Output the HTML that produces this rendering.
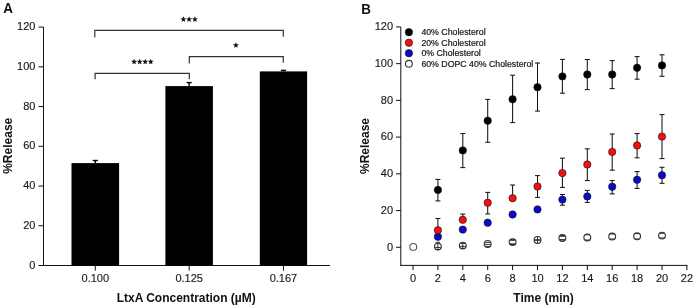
<!DOCTYPE html>
<html><head><meta charset="utf-8"><style>
html,body{margin:0;padding:0;background:#fff;width:693px;height:307px;overflow:hidden}
svg{display:block;font-family:"Liberation Sans",sans-serif}
</style></head><body>
<svg style="will-change:transform" width="693" height="307" viewBox="0 0 693 307">
<g fill="none" stroke="#111" stroke-width="1">
<line x1="43.5" y1="27.1" x2="43.5" y2="266"/>
<line x1="43" y1="265.5" x2="330" y2="265.5"/>
<line x1="38.5" y1="265.5" x2="43.5" y2="265.5"/>
<line x1="38.5" y1="225.77" x2="43.5" y2="225.77"/>
<line x1="38.5" y1="186.03" x2="43.5" y2="186.03"/>
<line x1="38.5" y1="146.3" x2="43.5" y2="146.3"/>
<line x1="38.5" y1="106.57" x2="43.5" y2="106.57"/>
<line x1="38.5" y1="66.83" x2="43.5" y2="66.83"/>
<line x1="38.5" y1="27.1" x2="43.5" y2="27.1"/>
<line x1="95.3" y1="265.5" x2="95.3" y2="270.7"/>
<line x1="189.15" y1="265.5" x2="189.15" y2="270.7"/>
<line x1="283.45" y1="265.5" x2="283.45" y2="270.7"/>
</g>
<g fill="#000">
<rect x="71.5" y="163.1" width="47.6" height="102.4"/>
<rect x="165.4" y="86.1" width="47.5" height="179.4"/>
<rect x="259.8" y="71.4" width="47.3" height="194.1"/>
</g>
<g stroke="#000" stroke-width="1.4" fill="none">
<line x1="95.3" y1="160.5" x2="95.3" y2="163.1"/>
<line x1="92.7" y1="160.5" x2="97.9" y2="160.5"/>
<line x1="189.15" y1="82.6" x2="189.15" y2="86.1"/>
<line x1="186.55" y1="82.6" x2="191.75" y2="82.6"/>
<line x1="283.45" y1="70.4" x2="283.45" y2="71.4"/>
<line x1="280.85" y1="70.4" x2="286.05" y2="70.4"/>
</g>
<g stroke="#333" stroke-width="1.2" fill="none">
<polyline points="94.8,37.4 94.8,30.4 283.3,30.4 283.3,36.8"/>
<polyline points="95.1,79.3 95.1,73.4 189.3,73.4 189.3,79.2"/>
<polyline points="189.3,63.4 189.3,56.7 283.3,56.7 283.3,62.8"/>
</g>
<g fill="#111">
<polygon points="183.4,16.3 184.19,18.31 186.35,18.44 184.68,19.82 185.22,21.91 183.4,20.75 181.58,21.91 182.12,19.82 180.45,18.44 182.61,18.31"/>
<polygon points="189.1,16.3 189.89,18.31 192.05,18.44 190.38,19.82 190.92,21.91 189.1,20.75 187.28,21.91 187.82,19.82 186.15,18.44 188.31,18.31"/>
<polygon points="194.9,16.3 195.69,18.31 197.85,18.44 196.18,19.82 196.72,21.91 194.9,20.75 193.08,21.91 193.62,19.82 191.95,18.44 194.11,18.31"/>
<polygon points="134.1,58.7 134.89,60.71 137.05,60.84 135.38,62.22 135.92,64.31 134.1,63.15 132.28,64.31 132.82,62.22 131.15,60.84 133.31,60.71"/>
<polygon points="139.7,58.7 140.49,60.71 142.65,60.84 140.98,62.22 141.52,64.31 139.7,63.15 137.88,64.31 138.42,62.22 136.75,60.84 138.91,60.71"/>
<polygon points="145.2,58.7 145.99,60.71 148.15,60.84 146.48,62.22 147.02,64.31 145.2,63.15 143.38,64.31 143.92,62.22 142.25,60.84 144.41,60.71"/>
<polygon points="150.7,58.7 151.49,60.71 153.65,60.84 151.98,62.22 152.52,64.31 150.7,63.15 148.88,64.31 149.42,62.22 147.75,60.84 149.91,60.71"/>
<polygon points="235.9,42.2 236.69,44.21 238.85,44.34 237.18,45.72 237.72,47.81 235.9,46.65 234.08,47.81 234.62,45.72 232.95,44.34 235.11,44.21"/>
</g>
<g font-family="Liberation Sans, sans-serif" font-size="11" fill="#1a1a1a" stroke="#1a1a1a" stroke-width="0.15" text-anchor="end">
<text x="35.4" y="268.5">0</text>
<text x="35.4" y="228.77">20</text>
<text x="35.4" y="189.03">40</text>
<text x="35.4" y="149.3">60</text>
<text x="35.4" y="109.57">80</text>
<text x="35.4" y="69.83">100</text>
<text x="35.4" y="30.1">120</text>
</g>
<g font-family="Liberation Sans, sans-serif" font-size="11" fill="#1a1a1a" stroke="#1a1a1a" stroke-width="0.15" text-anchor="middle">
<text x="95.3" y="282.1">0.100</text>
<text x="189.15" y="282.1">0.125</text>
<text x="283.45" y="282.1">0.167</text>
</g>
<g font-family="Liberation Sans, sans-serif" font-weight="bold" fill="#111">
<text transform="translate(3.3,13) scale(0.96,1.02)" font-size="14">A</text>
<text x="186.2" y="302" font-size="12" text-anchor="middle">LtxA Concentration (&#181;M)</text>
<text transform="translate(12,145.8) rotate(-90)" font-size="12" text-anchor="middle">%Release</text>
<text transform="translate(361.2,13.5) scale(0.96,1.07)" font-size="14">B</text>
<text x="543.6" y="302" font-size="12" text-anchor="middle">Time (min)</text>
<text transform="translate(368.8,146) rotate(-90)" font-size="12" text-anchor="middle">%Release</text>
</g>
<g fill="none" stroke="#111" stroke-width="1">
<line x1="400.8" y1="26.9" x2="400.8" y2="265.9"/>
<line x1="400.3" y1="265.4" x2="687.4" y2="265.4"/>
<line x1="396" y1="247.3" x2="400.8" y2="247.3"/>
<line x1="396" y1="210.57" x2="400.8" y2="210.57"/>
<line x1="396" y1="173.83" x2="400.8" y2="173.83"/>
<line x1="396" y1="137.1" x2="400.8" y2="137.1"/>
<line x1="396" y1="100.37" x2="400.8" y2="100.37"/>
<line x1="396" y1="63.63" x2="400.8" y2="63.63"/>
<line x1="396" y1="26.9" x2="400.8" y2="26.9"/>
<line x1="413" y1="265.4" x2="413" y2="270.2"/>
<line x1="437.9" y1="265.4" x2="437.9" y2="270.2"/>
<line x1="462.8" y1="265.4" x2="462.8" y2="270.2"/>
<line x1="487.7" y1="265.4" x2="487.7" y2="270.2"/>
<line x1="512.6" y1="265.4" x2="512.6" y2="270.2"/>
<line x1="537.5" y1="265.4" x2="537.5" y2="270.2"/>
<line x1="562.4" y1="265.4" x2="562.4" y2="270.2"/>
<line x1="587.3" y1="265.4" x2="587.3" y2="270.2"/>
<line x1="612.2" y1="265.4" x2="612.2" y2="270.2"/>
<line x1="637.1" y1="265.4" x2="637.1" y2="270.2"/>
<line x1="662" y1="265.4" x2="662" y2="270.2"/>
<line x1="686.9" y1="265.4" x2="686.9" y2="270.2"/>
</g>
<g font-family="Liberation Sans, sans-serif" font-size="11" fill="#1a1a1a" stroke="#1a1a1a" stroke-width="0.15" text-anchor="end">
<text x="393.1" y="250.5">0</text>
<text x="393.1" y="213.77">20</text>
<text x="393.1" y="177.03">40</text>
<text x="393.1" y="140.3">60</text>
<text x="393.1" y="103.57">80</text>
<text x="393.1" y="66.83">100</text>
<text x="393.1" y="30.1">120</text>
</g>
<g font-family="Liberation Sans, sans-serif" font-size="11" fill="#1a1a1a" stroke="#1a1a1a" stroke-width="0.15" text-anchor="middle">
<text x="413" y="282">0</text>
<text x="437.9" y="282">2</text>
<text x="462.8" y="282">4</text>
<text x="487.7" y="282">6</text>
<text x="512.6" y="282">8</text>
<text x="537.5" y="282">10</text>
<text x="562.4" y="282">12</text>
<text x="587.3" y="282">14</text>
<text x="612.2" y="282">16</text>
<text x="637.1" y="282">18</text>
<text x="662" y="282">20</text>
<text x="686.9" y="282">22</text>
</g>
<g stroke="#151515" stroke-width="1.05" fill="none">
<line x1="437.9" y1="179.4" x2="437.9" y2="189.9"/><line x1="435.4" y1="179.4" x2="440.4" y2="179.4"/><line x1="437.9" y1="200.9" x2="437.9" y2="189.9"/><line x1="435.4" y1="200.9" x2="440.4" y2="200.9"/>
<line x1="462.8" y1="133.5" x2="462.8" y2="150.4"/><line x1="460.3" y1="133.5" x2="465.3" y2="133.5"/><line x1="462.8" y1="167.6" x2="462.8" y2="150.4"/><line x1="460.3" y1="167.6" x2="465.3" y2="167.6"/>
<line x1="487.7" y1="99.4" x2="487.7" y2="120.7"/><line x1="485.2" y1="99.4" x2="490.2" y2="99.4"/><line x1="487.7" y1="142.3" x2="487.7" y2="120.7"/><line x1="485.2" y1="142.3" x2="490.2" y2="142.3"/>
<line x1="512.6" y1="75.2" x2="512.6" y2="99.3"/><line x1="510.1" y1="75.2" x2="515.1" y2="75.2"/><line x1="512.6" y1="122.6" x2="512.6" y2="99.3"/><line x1="510.1" y1="122.6" x2="515.1" y2="122.6"/>
<line x1="537.5" y1="63" x2="537.5" y2="87.2"/><line x1="535" y1="63" x2="540" y2="63"/><line x1="537.5" y1="111.1" x2="537.5" y2="87.2"/><line x1="535" y1="111.1" x2="540" y2="111.1"/>
<line x1="562.4" y1="59.4" x2="562.4" y2="76.4"/><line x1="559.9" y1="59.4" x2="564.9" y2="59.4"/><line x1="562.4" y1="93.2" x2="562.4" y2="76.4"/><line x1="559.9" y1="93.2" x2="564.9" y2="93.2"/>
<line x1="587.3" y1="59.5" x2="587.3" y2="74.5"/><line x1="584.8" y1="59.5" x2="589.8" y2="59.5"/><line x1="587.3" y1="89.6" x2="587.3" y2="74.5"/><line x1="584.8" y1="89.6" x2="589.8" y2="89.6"/>
<line x1="612.2" y1="60.6" x2="612.2" y2="74.5"/><line x1="609.7" y1="60.6" x2="614.7" y2="60.6"/><line x1="612.2" y1="88.6" x2="612.2" y2="74.5"/><line x1="609.7" y1="88.6" x2="614.7" y2="88.6"/>
<line x1="637.1" y1="56.6" x2="637.1" y2="67.8"/><line x1="634.6" y1="56.6" x2="639.6" y2="56.6"/><line x1="637.1" y1="79.2" x2="637.1" y2="67.8"/><line x1="634.6" y1="79.2" x2="639.6" y2="79.2"/>
<line x1="662" y1="54.8" x2="662" y2="65.4"/><line x1="659.5" y1="54.8" x2="664.5" y2="54.8"/><line x1="662" y1="76.3" x2="662" y2="65.4"/><line x1="659.5" y1="76.3" x2="664.5" y2="76.3"/>
<line x1="437.9" y1="218.5" x2="437.9" y2="230.2"/><line x1="435.4" y1="218.5" x2="440.4" y2="218.5"/>
<line x1="462.8" y1="214.1" x2="462.8" y2="219.8"/><line x1="460.3" y1="214.1" x2="465.3" y2="214.1"/>
<line x1="487.7" y1="192.4" x2="487.7" y2="202.8"/><line x1="485.2" y1="192.4" x2="490.2" y2="192.4"/><line x1="487.7" y1="213.9" x2="487.7" y2="202.8"/><line x1="485.2" y1="213.9" x2="490.2" y2="213.9"/>
<line x1="512.6" y1="185" x2="512.6" y2="198.2"/><line x1="510.1" y1="185" x2="515.1" y2="185"/>
<line x1="537.5" y1="175.6" x2="537.5" y2="186.5"/><line x1="535" y1="175.6" x2="540" y2="175.6"/><line x1="537.5" y1="197.4" x2="537.5" y2="186.5"/><line x1="535" y1="197.4" x2="540" y2="197.4"/>
<line x1="562.4" y1="158.2" x2="562.4" y2="173.1"/><line x1="559.9" y1="158.2" x2="564.9" y2="158.2"/><line x1="562.4" y1="187.4" x2="562.4" y2="173.1"/><line x1="559.9" y1="187.4" x2="564.9" y2="187.4"/>
<line x1="587.3" y1="148.8" x2="587.3" y2="164.5"/><line x1="584.8" y1="148.8" x2="589.8" y2="148.8"/><line x1="587.3" y1="180.6" x2="587.3" y2="164.5"/><line x1="584.8" y1="180.6" x2="589.8" y2="180.6"/>
<line x1="612.2" y1="134" x2="612.2" y2="151.9"/><line x1="609.7" y1="134" x2="614.7" y2="134"/><line x1="612.2" y1="170.2" x2="612.2" y2="151.9"/><line x1="609.7" y1="170.2" x2="614.7" y2="170.2"/>
<line x1="637.1" y1="133.6" x2="637.1" y2="145.5"/><line x1="634.6" y1="133.6" x2="639.6" y2="133.6"/><line x1="637.1" y1="157.8" x2="637.1" y2="145.5"/><line x1="634.6" y1="157.8" x2="639.6" y2="157.8"/>
<line x1="662" y1="114.6" x2="662" y2="136.6"/><line x1="659.5" y1="114.6" x2="664.5" y2="114.6"/><line x1="662" y1="158.6" x2="662" y2="136.6"/><line x1="659.5" y1="158.6" x2="664.5" y2="158.6"/>





<line x1="562.4" y1="194.5" x2="562.4" y2="199.6"/><line x1="559.9" y1="194.5" x2="564.9" y2="194.5"/><line x1="562.4" y1="205.2" x2="562.4" y2="199.6"/><line x1="559.9" y1="205.2" x2="564.9" y2="205.2"/>
<line x1="587.3" y1="190.4" x2="587.3" y2="196.4"/><line x1="584.8" y1="190.4" x2="589.8" y2="190.4"/><line x1="587.3" y1="202.4" x2="587.3" y2="196.4"/><line x1="584.8" y1="202.4" x2="589.8" y2="202.4"/>
<line x1="612.2" y1="180.5" x2="612.2" y2="186.7"/><line x1="609.7" y1="180.5" x2="614.7" y2="180.5"/><line x1="612.2" y1="193.9" x2="612.2" y2="186.7"/><line x1="609.7" y1="193.9" x2="614.7" y2="193.9"/>
<line x1="637.1" y1="171.6" x2="637.1" y2="179.8"/><line x1="634.6" y1="171.6" x2="639.6" y2="171.6"/><line x1="637.1" y1="188.4" x2="637.1" y2="179.8"/><line x1="634.6" y1="188.4" x2="639.6" y2="188.4"/>
<line x1="662" y1="167.3" x2="662" y2="175.3"/><line x1="659.5" y1="167.3" x2="664.5" y2="167.3"/><line x1="662" y1="183.3" x2="662" y2="175.3"/><line x1="659.5" y1="183.3" x2="664.5" y2="183.3"/>
</g>
<g stroke="#111" stroke-width="0.6">
<circle cx="437.9" cy="236.8" r="3.7" fill="#0c0cc8"/>
<circle cx="462.8" cy="229.6" r="3.7" fill="#0c0cc8"/>
<circle cx="487.7" cy="222.7" r="3.7" fill="#0c0cc8"/>
<circle cx="512.6" cy="214.5" r="3.7" fill="#0c0cc8"/>
<circle cx="537.5" cy="209.4" r="3.7" fill="#0c0cc8"/>
<circle cx="562.4" cy="199.6" r="3.7" fill="#0c0cc8"/>
<circle cx="587.3" cy="196.4" r="3.7" fill="#0c0cc8"/>
<circle cx="612.2" cy="186.7" r="3.7" fill="#0c0cc8"/>
<circle cx="637.1" cy="179.8" r="3.7" fill="#0c0cc8"/>
<circle cx="662" cy="175.3" r="3.7" fill="#0c0cc8"/>
<circle cx="437.9" cy="230.2" r="3.7" fill="#f21010"/>
<circle cx="462.8" cy="219.8" r="3.7" fill="#f21010"/>
<circle cx="487.7" cy="202.8" r="3.7" fill="#f21010"/>
<circle cx="512.6" cy="198.2" r="3.7" fill="#f21010"/>
<circle cx="537.5" cy="186.5" r="3.7" fill="#f21010"/>
<circle cx="562.4" cy="173.1" r="3.7" fill="#f21010"/>
<circle cx="587.3" cy="164.5" r="3.7" fill="#f21010"/>
<circle cx="612.2" cy="151.9" r="3.7" fill="#f21010"/>
<circle cx="637.1" cy="145.5" r="3.7" fill="#f21010"/>
<circle cx="662" cy="136.6" r="3.7" fill="#f21010"/>
<circle cx="437.9" cy="189.9" r="3.7" fill="#000"/>
<circle cx="462.8" cy="150.4" r="3.7" fill="#000"/>
<circle cx="487.7" cy="120.7" r="3.7" fill="#000"/>
<circle cx="512.6" cy="99.3" r="3.7" fill="#000"/>
<circle cx="537.5" cy="87.2" r="3.7" fill="#000"/>
<circle cx="562.4" cy="76.4" r="3.7" fill="#000"/>
<circle cx="587.3" cy="74.5" r="3.7" fill="#000"/>
<circle cx="612.2" cy="74.5" r="3.7" fill="#000"/>
<circle cx="637.1" cy="67.8" r="3.7" fill="#000"/>
<circle cx="662" cy="65.4" r="3.7" fill="#000"/>
</g>
<g stroke="#333" stroke-width="1.15" fill="none">
<circle cx="413.3" cy="246.9" r="3.4" stroke="#555" stroke-width="1.1"/>
<circle cx="437.9" cy="246.6" r="3.4"/>
<circle cx="462.8" cy="245.6" r="3.4"/>
<circle cx="487.7" cy="243.9" r="3.4"/>
<circle cx="512.6" cy="242.1" r="3.4"/>
<circle cx="537.5" cy="239.9" r="3.4"/>
<circle cx="562.4" cy="237.9" r="3.4"/>
<circle cx="587.3" cy="237.4" r="3.4"/>
<circle cx="612.2" cy="236.5" r="3.4"/>
<circle cx="637.1" cy="236.3" r="3.4"/>
<circle cx="662" cy="235.6" r="3.4"/>
</g>
<g stroke="#222" stroke-width="0.9" fill="none">
<line x1="435.7" y1="242.3" x2="440.1" y2="242.3"/>
<line x1="435.1" y1="247.5" x2="440.7" y2="247.5"/>
<line x1="435.9" y1="249.5" x2="439.9" y2="249.5"/>
<line x1="437.9" y1="242.3" x2="437.9" y2="249.5"/>
<line x1="460.6" y1="243.4" x2="465" y2="243.4"/>
<line x1="459.9" y1="246.4" x2="465.7" y2="246.4"/>
<line x1="461" y1="248.4" x2="464.6" y2="248.4"/>
<line x1="462.8" y1="243.4" x2="462.8" y2="248.4"/>
<line x1="485.3" y1="242.4" x2="490.1" y2="242.4"/>
<line x1="484.8" y1="244.4" x2="490.6" y2="244.4"/>
<line x1="485.5" y1="246.4" x2="489.9" y2="246.4"/>
<line x1="510" y1="239.7" x2="515.2" y2="239.7"/>
<line x1="510" y1="240.3" x2="515.2" y2="240.3"/>
<line x1="510" y1="244.4" x2="515.2" y2="244.4"/>
<line x1="510" y1="243.8" x2="515.2" y2="243.8"/>
<line x1="534.5" y1="239.7" x2="540.5" y2="239.7"/>
<line x1="534.5" y1="240.3" x2="540.5" y2="240.3"/>
<line x1="537.5" y1="236.7" x2="537.5" y2="243.1"/>
<line x1="559.8" y1="235.7" x2="565" y2="235.7"/>
<line x1="559.8" y1="236.2" x2="565" y2="236.2"/>
<line x1="559.8" y1="240.1" x2="565" y2="240.1"/>
<line x1="559.8" y1="239.6" x2="565" y2="239.6"/>
<line x1="562.4" y1="235.3" x2="562.4" y2="236"/>
<line x1="585.1" y1="234.8" x2="589.5" y2="234.8"/>
<line x1="585.1" y1="240" x2="589.5" y2="240"/>
<line x1="610" y1="234" x2="614.4" y2="234"/>
<line x1="610" y1="239" x2="614.4" y2="239"/>
<line x1="635.1" y1="233.6" x2="639.1" y2="233.6"/>
<line x1="635.1" y1="239" x2="639.1" y2="239"/>
<line x1="659.5" y1="233.3" x2="664.5" y2="233.3"/>
<line x1="659.5" y1="237.9" x2="664.5" y2="237.9"/>
</g>
<g stroke="#111" stroke-width="0.6">
<circle cx="408.9" cy="32.2" r="3.7" fill="#000"/>
<circle cx="408.9" cy="42.7" r="3.7" fill="#f21010"/>
<circle cx="408.9" cy="53.2" r="3.7" fill="#0c0cc8"/>
<circle cx="408.9" cy="63.8" r="3.4" fill="#fff" stroke="#333" stroke-width="1.1"/>
</g>
<g font-family="Liberation Sans, sans-serif" font-size="8.75" fill="#1a1a1a" stroke="#1a1a1a" stroke-width="0.22">
<text x="421.4" y="35">40% Cholesterol</text>
<text x="421.4" y="45.7">20% Cholesterol</text>
<text x="421.4" y="56.4">0% Cholesterol</text>
<text x="421.4" y="67.1">60% DOPC 40% Cholesterol</text>
</g>
</svg>
</body></html>
